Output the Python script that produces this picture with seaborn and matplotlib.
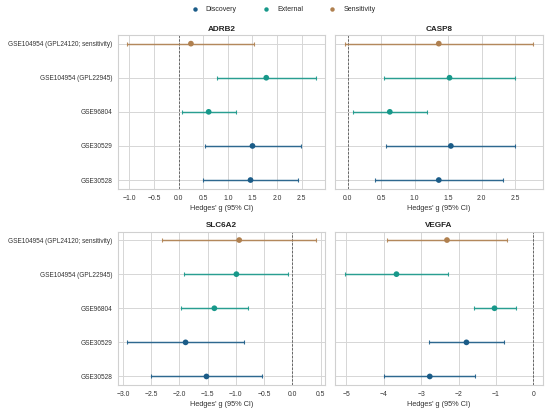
import numpy as np
import pandas as pd
import matplotlib
matplotlib.use("Agg")
import matplotlib.pyplot as plt
from matplotlib.lines import Line2D
import seaborn as sns

# ---- data ----
datasets = ["GSE30528", "GSE30529", "GSE96804", "GSE104954 (GPL22945)",
            "GSE104954 (GPL24120; sensitivity)"]
cohorts = ["Discovery", "Discovery", "External", "External", "Sensitivity"]
genes = ["ADRB2", "CASP8", "SLC6A2", "VEGFA"]

adrb2_g = [1.46, 1.50, 0.61, 1.78, 0.25]
adrb2_lo = [0.50, 0.54, 0.07, 0.78, -1.04]
adrb2_hi = [2.43, 2.48, 1.16, 2.79, 1.54]

casp8_g = [1.36, 1.54, 0.63, 1.52, 1.36]
casp8_lo = [0.41, 0.57, 0.08, 0.54, -0.04]
casp8_hi = [2.31, 2.50, 1.18, 2.50, 2.77]

slc6a2_g = [-1.52, -1.89, -1.38, -0.99, -0.94]
slc6a2_lo = [-2.50, -2.92, -1.97, -1.91, -2.30]
slc6a2_hi = [-0.54, -0.86, -0.78, -0.07, 0.42]

vegfa_g = [-2.77, -1.79, -1.04, -3.66, -2.31]
vegfa_lo = [-3.99, -2.80, -1.60, -5.04, -3.92]
vegfa_hi = [-1.57, -0.78, -0.46, -2.28, -0.70]

palette = {"Discovery": "#1b5c88", "External": "#17988a", "Sensitivity": "#b0804f"}

rows = []
for gene, g, lo, hi in zip(genes,
                           [adrb2_g, casp8_g, slc6a2_g, vegfa_g],
                           [adrb2_lo, casp8_lo, slc6a2_lo, vegfa_lo],
                           [adrb2_hi, casp8_hi, slc6a2_hi, vegfa_hi]):
    for i, ds in enumerate(datasets):
        rows.append(dict(gene=gene, dataset=ds, cohort=cohorts[i], pos=i,
                         g=g[i], lo=lo[i], hi=hi[i]))
df = pd.DataFrame(rows)

sns.set_theme(style="whitegrid", rc={
    "grid.color": "#d6d6d6", "grid.linewidth": 0.7,
    "axes.edgecolor": "#d0d0d0", "axes.linewidth": 0.8,
})
plt.rcParams["font.family"] = ["Liberation Sans", "DejaVu Sans"]

fig, axes = plt.subplots(2, 2, figsize=(5.5, 4.18), dpi=100, sharey=True)
fig.subplots_adjust(left=0.2145, right=0.987, top=0.916, bottom=0.079,
                    wspace=0.048, hspace=0.28)

for ax, gene in zip(axes.flat, genes):
    sub = df[df.gene == gene]
    for _, r in sub.iterrows():
        ax.errorbar(r.g, r.pos, xerr=[[r.g - r.lo], [r.hi - r.g]], fmt="none",
                    ecolor=palette[r.cohort], elinewidth=1.05, capsize=1.3,
                    capthick=0.8, alpha=0.9, zorder=2)
    sns.scatterplot(data=sub, x="g", y="pos", hue="cohort", palette=palette,
                    s=17, edgecolor="none", legend=False, ax=ax, zorder=3)
    ax.axvline(0, color="#666666", linestyle=(0, (2.5, 1.5)), linewidth=0.7,
               zorder=1)
    ax.set_title(gene, fontsize=5.9, fontweight="bold", pad=3, color="#222222")
    ax.set_xlabel("Hedges' g (95% CI)", fontsize=5.3, labelpad=2, color="#333333")
    ax.set_ylabel("")
    ax.set_ylim(-0.25, len(datasets) - 0.75)
    ax.set_yticks(range(len(datasets)))
    ax.set_yticklabels(datasets)
    ax.tick_params(axis="x", labelsize=4.9, pad=4.5, length=0, colors="#333333")
    ax.tick_params(axis="y", labelsize=4.7, pad=3.8, length=0, colors="#333333")
    for s in ax.spines.values():
        s.set_color("#d0d0d0")

handles = [Line2D([0], [0], marker="o", linestyle="none", markersize=3.2,
                  markerfacecolor=palette[c], markeredgecolor="none", label=c)
           for c in ["Discovery", "External", "Sensitivity"]]
fig.legend(handles=handles, loc="upper center", bbox_to_anchor=(0.512, 1.0),
           ncol=3, frameon=False, fontsize=5.0, columnspacing=3.2,
           handletextpad=0.6)

fig.savefig("out.png", dpi=100)
